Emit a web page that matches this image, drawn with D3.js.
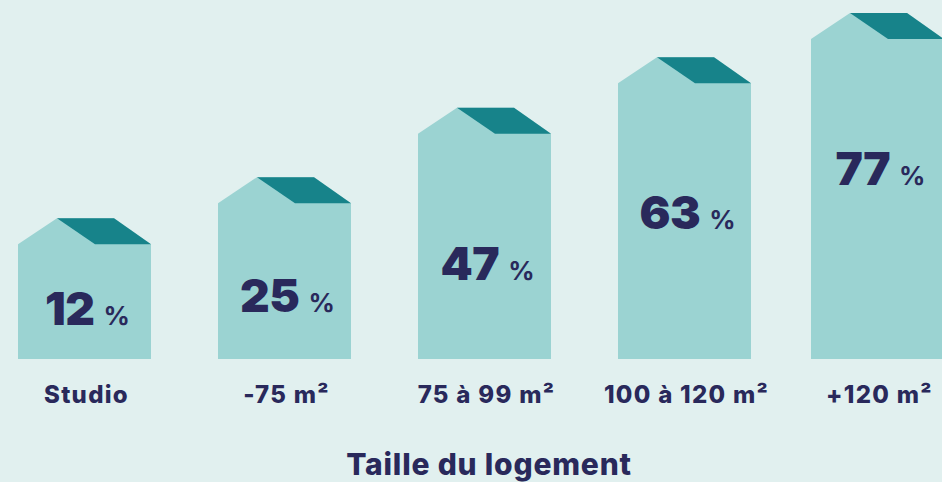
<!DOCTYPE html>
<html><head><meta charset="utf-8">
<script src="https://cdn.jsdelivr.net/npm/d3@7/dist/d3.min.js"></script>
<style>
html,body{margin:0;padding:0;background:#e1f0ef;}
svg{display:block;}
text{font-family:Inter,"Noto Sans",sans-serif;font-weight:800;fill:#29295b;}
</style></head>
<body><svg id="chart" width="942" height="482"></svg>
<script>
const categories = ["Studio", "-75 m²", "75 à 99 m²", "100 à 120 m²", "+120 m²"];
const values = [12, 25, 47, 63, 77];
const axisTitle = "Taille du logement";

const W = 942, H = 482, baseY = 359, barW = 133, roofH = 26;
const svg = d3.select("#chart");
svg.append("rect").attr("width", W).attr("height", H).attr("fill", "#e1f0ef");

const x = d3.scaleOrdinal().domain(categories).range([18, 218, 418, 618, 811]);
const y = d3.scaleLinear().domain([0, 80]).range([282, 29.6]);

const data = categories.map((c, i) => ({cat: c, v: values[i]}));
const g = svg.append("g");

const house = g.selectAll("g.house").data(data).join("g").attr("class", "house");

house.append("path")
  .attr("fill", "#9bd3d2")
  .attr("d", d => {
    const l = x(d.cat), e = y(d.v), r = l + barW;
    return `M${l},${baseY}L${l},${e}L${l + 39},${e - roofH}L${l + 96},${e - roofH}L${r},${e}L${r},${baseY}Z`;
  });
house.append("path")
  .attr("fill", "#17838a")
  .attr("d", d => {
    const l = x(d.cat), e = y(d.v), r = l + barW;
    return `M${l + 39},${e - roofH}L${l + 96},${e - roofH}L${r},${e}L${l + 77},${e}Z`;
  });

house.append("text")
  .attr("text-anchor", "middle")
  .attr("x", d => x(d.cat) + barW / 2 + 3)
  .attr("y", d => { const e = y(d.v); return e + Math.min(146, 0.7 * (baseY - e)); })
  .each(function(d) {
    const t = d3.select(this);
    t.append("tspan").attr("font-size", 46).attr("font-weight", 900).attr("letter-spacing", -0.5).text(d.v);
    t.append("tspan").attr("font-size", 26).attr("font-weight", 700).attr("dx", 9).text("%");
  });

g.selectAll("text.cat").data(data).join("text")
  .attr("class", "cat")
  .attr("text-anchor", "middle")
  .attr("x", d => x(d.cat) + barW / 2 + 2)
  .attr("y", 403)
  .attr("font-size", 24)
  .attr("letter-spacing", 1.3)
  .text(d => d.cat);

svg.append("text")
  .attr("text-anchor", "middle")
  .attr("x", 489)
  .attr("y", 475)
  .attr("font-size", 30)
  .attr("letter-spacing", 0.8)
  .text(axisTitle);
</script></body></html>
